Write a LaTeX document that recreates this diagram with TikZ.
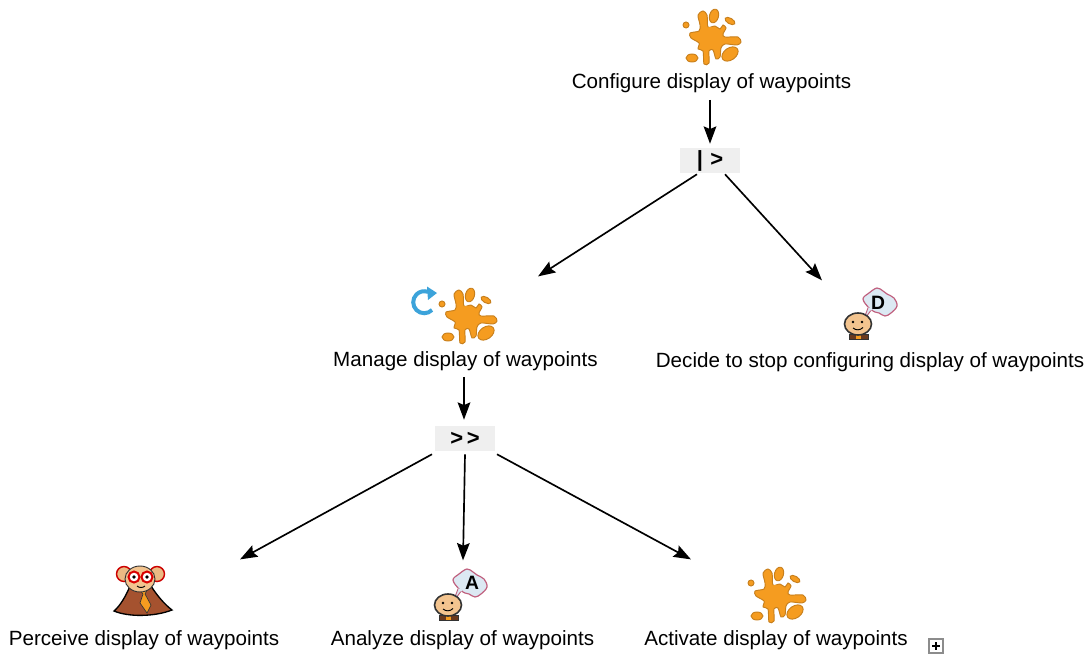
\documentclass[tikz,border=0pt]{standalone}
\usepackage{fontspec}
\setmainfont{Liberation Sans}
\usetikzlibrary{arrows.meta,calc}
\definecolor{splatfill}{HTML}{F59C20}
\definecolor{splatline}{HTML}{C77F1C}
\definecolor{loopblue}{HTML}{3CA3DA}
\definecolor{opgray}{HTML}{EFEFEF}
\definecolor{skin}{HTML}{F3C48F}
\definecolor{cloud}{HTML}{DCE9F3}
\definecolor{cloudline}{HTML}{C0607E}
\definecolor{cloak}{HTML}{A5522F}
\definecolor{collar}{HTML}{6B3A1E}
\tikzset{
  tasklabel/.style={inner sep=0pt,font=\fontsize{15.45}{18}\selectfont,text=black},
  opnode/.style={fill=opgray,minimum width=45pt,minimum height=18.75pt,inner sep=0pt,font=\fontsize{16.5}{18}\selectfont\bfseries},
  iconanchor/.style={minimum width=41pt,minimum height=41pt,inner sep=0pt},
  arr/.style={line width=1.25pt,-{Stealth[length=13pt,width=9.5pt,inset=2pt]}},
  splat/.pic={
    \begin{scope}[fill=splatfill,draw=splatline,line width=0.7pt]
      \filldraw plot[smooth cycle,tension=0.5] coordinates {(-13,-22)(-8,-26)(-4,-22)(-3,-10)(4,-11)(9,-8)(12,-12)(15,-9)(12,-3)(14,0)(27,0)(30,5)(26,8)(14,7)(10,11)(9,20)(5,22)(2,13)(-2,14)(-2,26)(-7,27)(-8,14)(-13,12)(-12,6)(-20,1)(-21,-4)(-12,-6)(-11,-12)};
      \fill (-1,1) circle [radius=11];
      \filldraw[rotate around={-15:(3,-21)}] (3,-21) ellipse [x radius=4.5,y radius=7];
      \filldraw[rotate around={-30:(19,-16)}] (19,-16) ellipse [x radius=5.5,y radius=2.8];
      \filldraw[rotate around={35:(19,17)}] (19,17) ellipse [x radius=9,y radius=6];
      \filldraw (-19,21) ellipse [x radius=6,y radius=4];
      \filldraw (-25,-12) circle [radius=3];
    \end{scope}
  },
  thinker/.pic={
    \filldraw[draw=cloudline,fill=cloud,line width=0.9pt]
      plot[smooth cycle,tension=0.6] coordinates {(5,-25)(11,-31)(19,-36)(25,-33)(29,-30)(36,-26)(39,-18)(33,-11)(27,-8)(21,-11)(17,-12)(11,-16)};
    \filldraw[draw=cloudline,fill=cloud,line width=0.7pt] (14,-15) -- (5,-3) -- (10,-16);
    \fill[cloud] (10,-16.5) -- (14.5,-15.5) -- (13,-13) -- cycle;
    \filldraw[draw=black!80,fill=collar] (-9,10) rectangle (10,15);
    \fill[splatfill] (-2,10) rectangle (3,15);
    \filldraw[draw=black!80,fill=skin,line width=1.2pt] (0,0) ellipse [x radius=13.5,y radius=11];
    \fill (-5,-2) circle [radius=1.4] (4,-2) circle [radius=1.4];
    \draw[line width=0.7pt] (-5,4) .. controls (-2,6.5) and (2,6.5) .. (5,3.5);
  },
  monkey/.pic={
    \filldraw[draw=black,fill=cloak,line width=1pt]
      (-10,8) .. controls (-14,18) and (-20,28) .. (-26,33) .. controls (-12,39) and (14,39) .. (32,32)
      .. controls (24,26) and (16,16) .. (11,8) -- cycle;
    \filldraw[draw=black!80,fill=splatfill,line width=0.5pt] (-2,10) -- (8,10) -- (5,16) -- (11,27) -- (7,35) -- (0,25) -- (3,16) -- cycle;
    \filldraw[draw=red!80!black,fill=skin!85!brown,line width=1.1pt] (-16,-4) circle [radius=7.5];
    \filldraw[draw=red!80!black,fill=skin!85!brown,line width=1.1pt] (17,-4) circle [radius=7.5];
    \filldraw[draw=black!80,fill=skin,line width=0.7pt] (0,1) ellipse [x radius=15,y radius=13];
    \filldraw[draw=red!85!black,fill=white,line width=1.5pt] (-6,-1) circle [radius=5.5];
    \filldraw[draw=red!85!black,fill=white,line width=1.5pt] (7,-1) circle [radius=5.5];
    \fill (-6,-1) circle [radius=1.9] (7,-1) circle [radius=1.9];
    \draw[line width=0.7pt] (-3,8) .. controls (-1,10) and (3,10) .. (5,8);
  }
}
\begin{document}
\begin{tikzpicture}[x=0.75pt,y=-0.75pt]
\useasboundingbox (0,0) rectangle (1089,656);

% icon anchors and pictures
\node[iconanchor] (i1) at (711,37) {};
\node[iconanchor] (i2) at (467,316) {};
\node[iconanchor] (i3) at (860,318) {};
\node[iconanchor] (i4) at (142,590) {};
\node[iconanchor] (i5) at (450,595) {};
\node[iconanchor] (i6) at (776,595) {};
\pic at (i1) {splat};
\pic at (i2) {splat};
\pic at (i6) {splat};
\pic at (858,324) {thinker};
\node[font=\fontsize{14.5}{16}\selectfont\bfseries] (dl) at (878,303) {D};
\pic at (448,605) {thinker};
\node[font=\fontsize{14.5}{16}\selectfont\bfseries] (al) at (472,583) {A};
\pic at (140,578) {monkey};

% loop marker
\draw[loopblue,line width=3pt] (432,310) arc [start angle=45,end angle=290,radius=11];
\fill[loopblue] (427,286.5) -- (437,293) -- (428,300) -- cycle;

% labels
\node[tasklabel] (t1) at (711.5,83) {Configure display of waypoints};
\node[tasklabel] (t2) at (465.5,361) {Manage display of waypoints};
\node[tasklabel] (t3) at (870,362) {Decide to stop configuring display of waypoints};
\node[tasklabel] (t4) at (144,640) {Perceive display of waypoints};
\node[tasklabel] (t5) at (462.5,640) {Analyze display of waypoints};
\node[tasklabel] (t6) at (776,640) {Activate display of waypoints};

% operators
\node[opnode] (op1) at (710,160.5) {|\,\,>};
\node[opnode] (op2) at (465,438.5) {>{}\,>};

% expand box
\node[draw=black!45,line width=1.3pt,minimum size=10pt,inner sep=0pt] (ex) at (936,646) {};
\draw[line width=0.8pt] ($(ex.center)+(-4,0)$) -- ($(ex.center)+(4,0)$);
\draw[line width=0.8pt] ($(ex.center)+(0,-4)$) -- ($(ex.center)+(0,4)$);

% connectors
\draw[arr] ($(t1.south)+(-1.5,7)$) -- ($(op1.north)+(0,-4)$);
\draw[arr] ($(op1.south)+(-13,1)$) -- ($(i2.north)+(71,-12)$);
\draw[arr] ($(op1.south)+(15,1)$) -- ($(i3.north)+(-38,-10)$);
\draw[arr] ($(t2.south)+(-1.5,6)$) -- ($(op2.north)+(-1,-6)$);
\draw[arr] ($(op2.south)+(-33,3)$) -- ($(i4.north)+(98,-3)$);
\draw[arr] ($(op2.south)+(0,3)$) -- ($(i5.north)+(13,-7)$);
\draw[arr] ($(op2.south)+(32,3)$) -- ($(i6.north)+(-85,-8)$);
\end{tikzpicture}
\end{document}
